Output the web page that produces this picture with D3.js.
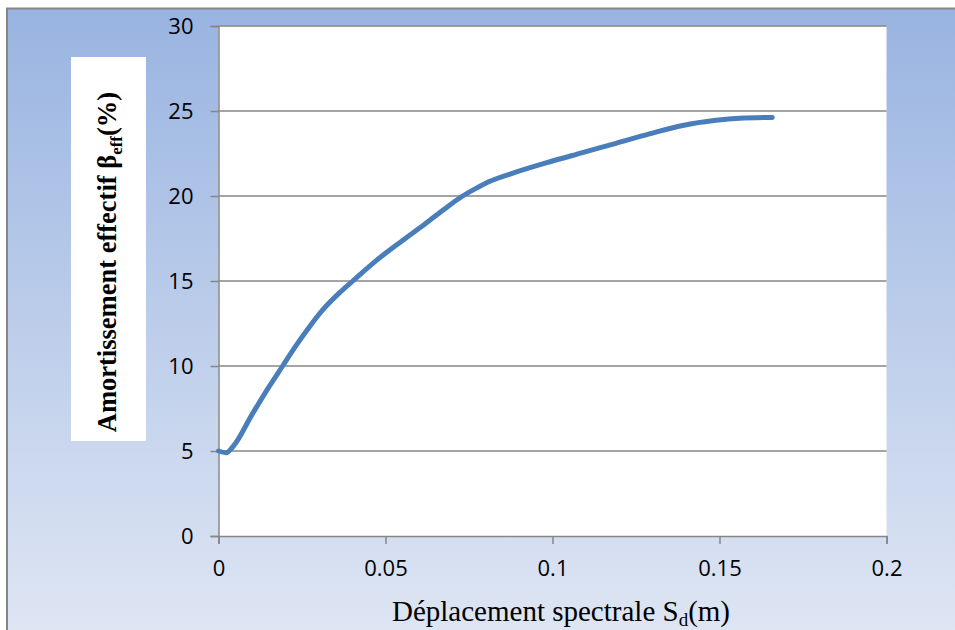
<!DOCTYPE html>
<html>
<head>
<meta charset="utf-8">
<script src="https://cdn.jsdelivr.net/npm/d3@7"></script>
<style>
  html, body { margin: 0; padding: 0; background: #fff; }
  svg { display: block; }
</style>
</head>
<body>
<div id="chart"></div>
<script>
// values
const sd = [0, 0.0023, 0.0043, 0.0102, 0.0152, 0.0192, 0.0232, 0.0272, 0.0312, 0.0362,
  0.0402, 0.0472, 0.0552, 0.0621, 0.0681, 0.0731, 0.0771, 0.0811, 0.089, 0.099,
  0.109, 0.119, 0.129, 0.139, 0.149, 0.156, 0.1658];
const beta = [5.0, 4.9, 5.25, 7.2, 8.8, 10.0, 11.2, 12.3, 13.3, 14.3,
  15.0, 16.2, 17.4, 18.4, 19.3, 20.0, 20.45, 20.85, 21.4, 22.0,
  22.55, 23.1, 23.65, 24.15, 24.45, 24.57, 24.62];
const xTicks = [0, 0.05, 0.1, 0.15, 0.2];
const yTicks = [0, 5, 10, 15, 20, 25, 30];

const W = 955, H = 630;
const margin = { left: 218.5, right: W - 886.5, top: 26, bottom: H - 536 };
const tickFont = '"Open Sans", "DejaVu Sans", sans-serif';
const serif = '"Liberation Serif", "Times New Roman", serif';
const grey = '#868686';

const svg = d3.select('#chart').append('svg')
  .attr('width', W)
  .attr('height', H);

const grad = svg.append('defs').append('linearGradient')
  .attr('id', 'bg')
  .attr('x1', 0).attr('y1', 0).attr('x2', 0).attr('y2', 1);
grad.append('stop').attr('offset', '0%').attr('stop-color', '#99b4e1');
grad.append('stop').attr('offset', '100%').attr('stop-color', '#e0e7f4');

// chart area (frame runs off the right and bottom)
svg.append('rect')
  .attr('x', 7).attr('y', 8.5)
  .attr('width', W + 10).attr('height', H + 10)
  .attr('fill', 'url(#bg)')
  .attr('stroke', grey)
  .attr('stroke-width', 2);

const x = d3.scaleLinear().domain([0, 0.2]).range([margin.left, W - margin.right]);
const y = d3.scaleLinear().domain([0, 30]).range([H - margin.bottom, margin.top]);

svg.append('rect')
  .attr('x', x(0)).attr('y', y(30))
  .attr('width', x(0.2) - x(0)).attr('height', y(0) - y(30))
  .attr('fill', '#fff');

// gridlines
svg.append('g')
  .selectAll('line')
  .data(yTicks.filter(d => d > 0))
  .enter().append('line')
  .attr('x1', x(0)).attr('x2', x(0.2))
  .attr('y1', d => y(d)).attr('y2', d => y(d))
  .attr('stroke', grey)
  .attr('stroke-width', 1.5);

// y axis
const yAxis = svg.append('g')
  .attr('transform', `translate(${x(0)},0)`)
  .call(d3.axisLeft(y).tickValues(yTicks).tickSize(8).tickPadding(17).tickFormat(d3.format('d')));

// x axis
const xAxis = svg.append('g')
  .attr('transform', `translate(0,${y(0)})`)
  .call(d3.axisBottom(x).tickValues(xTicks).tickSize(8).tickPadding(16).tickFormat(d => String(d)));

[yAxis, xAxis].forEach(ax => {
  ax.select('.domain').attr('stroke', grey).attr('stroke-width', 1.5);
  ax.selectAll('.tick line').attr('stroke', grey).attr('stroke-width', 1.5);
  ax.selectAll('.tick text')
    .attr('fill', '#000')
    .style('font-family', tickFont)
    .style('font-size', '22px');
});
yAxis.selectAll('.tick text').attr('dy', '0.36em');

// the curve
const line = d3.line()
  .x((d, i) => x(sd[i]))
  .y((d, i) => y(beta[i]))
  .curve(d3.curveMonotoneX);

svg.append('path')
  .datum(beta)
  .attr('d', line)
  .attr('fill', 'none')
  .attr('stroke', '#4a7ebb')
  .attr('stroke-width', 5)
  .attr('stroke-linecap', 'round')
  .attr('stroke-linejoin', 'round');

// y title in its white box
svg.append('rect')
  .attr('x', 71).attr('y', 57)
  .attr('width', 75).attr('height', 384)
  .attr('fill', '#fff');

const yTitle = svg.append('text')
  .attr('transform', 'translate(116,262) rotate(-90)')
  .attr('text-anchor', 'middle')
  .style('font-family', serif)
  .style('font-weight', 'bold')
  .style('font-size', '26.5px');
yTitle.append('tspan').text('Amortissement effectif β');
yTitle.append('tspan').attr('dy', 6).style('font-size', '17px').text('eff');
yTitle.append('tspan').attr('dy', -6).text('(%)');

// x title
const xTitle = svg.append('text')
  .attr('x', 561).attr('y', 621)
  .attr('text-anchor', 'middle')
  .style('font-family', serif)
  .style('font-size', '29px');
xTitle.append('tspan').text('Déplacement spectrale S');
xTitle.append('tspan').attr('dy', 5).style('font-size', '19px').text('d');
xTitle.append('tspan').attr('dy', -5).text('(m)');
</script>
</body>
</html>
